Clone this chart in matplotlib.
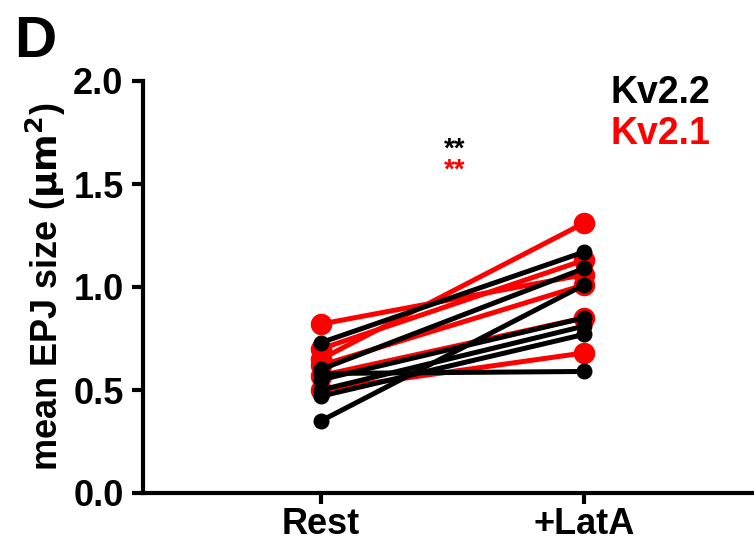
import matplotlib
matplotlib.use("Agg")
import matplotlib.pyplot as plt

plt.rcParams['font.family'] = ['Liberation Sans', 'DejaVu Sans']
plt.rcParams['font.weight'] = 'bold'

categories = ["Rest", "+LatA"]
kv21_rest = [0.65, 0.82, 0.70, 0.62, 0.57, 0.50]
kv21_lata = [1.31, 1.06, 1.13, 1.01, 0.85, 0.68]
kv22_rest = [0.73, 0.60, 0.35, 0.58, 0.55, 0.50, 0.47]
kv22_lata = [1.17, 1.09, 1.01, 0.59, 0.85, 0.81, 0.77]
yticks = [0.0, 0.5, 1.0, 1.5, 2.0]

W, H = 754, 546
fig = plt.figure(figsize=(W / 100, H / 100), dpi=100)
ax = fig.add_axes([143 / W, (H - 493) / H, (W - 143) / W, 412 / H])

xs = [0, 1]
for r, l in zip(kv21_rest, kv21_lata):
    ax.plot(xs, [r, l], color='#ff0000', lw=3.6, marker='o', ms=14.5,
            solid_capstyle='round', clip_on=False, zorder=2)
for r, l in zip(kv22_rest, kv22_lata):
    ax.plot(xs, [r, l], color='black', lw=3.6, marker='o', ms=10.5,
            solid_capstyle='round', clip_on=False, zorder=3)

x_left = -(321 - 143) / 263
x_right = (W - 321) / 263
ax.set_xlim(x_left, x_right)
ax.set_ylim(0, 2.0)
ax.set_xticks(xs)
ax.set_xticklabels(categories, fontsize=26, fontweight='bold')
ax.set_yticks(yticks)
ax.set_yticklabels([f"{v:.1f}" for v in yticks], fontsize=26, fontweight='bold')
for s in ['top', 'right']:
    ax.spines[s].set_visible(False)
for s in ['left', 'bottom']:
    ax.spines[s].set_linewidth(3)
ax.tick_params(axis='x', width=3, length=8, pad=2)
ax.tick_params(axis='y', width=3, length=8, pad=6)
ax.set_ylabel(r"mean EPJ size ($\mathbf{\mu m^2}$)", fontsize=26, fontweight='bold', labelpad=4)

ax.text(0.51, 1.665, "**", color='black', fontsize=20, fontweight='bold', ha='center', va='center')
ax.text(0.51, 1.565, "**", color='#ff0000', fontsize=20, fontweight='bold', ha='center', va='center')
ax.text(1.099, 1.94, "Kv2.2", color='black', fontsize=27, fontweight='bold', ha='left', va='center')
ax.text(1.099, 1.745, "Kv2.1", color='#ff0000', fontsize=27, fontweight='bold', ha='left', va='center')

fig.text(14 / W, 1 - 42 / H, "D", fontsize=42, fontweight='bold', ha='left', va='center')

fig.savefig("out.png", dpi=100)
